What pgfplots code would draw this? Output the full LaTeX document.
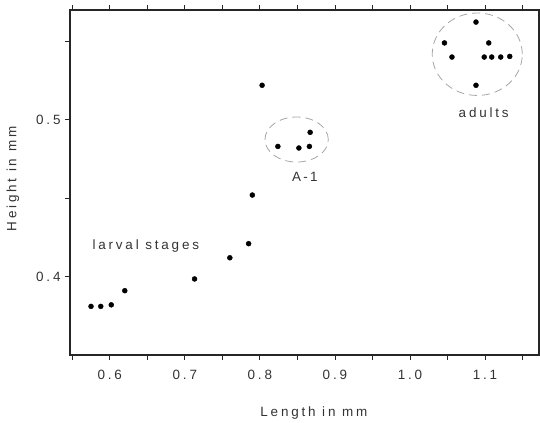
\documentclass[border=0pt]{standalone}
\usepackage{fontspec}
\setmainfont{Liberation Sans}[LetterSpace=21]
\usepackage{pgfplots}
\pgfplotsset{compat=1.18}
\begin{document}
\begin{tikzpicture}[x=1bp,y=1bp]
\path[use as bounding box] (0,0) rectangle (540,422);
\begin{axis}[
  at={(70bp,67bp)}, anchor=south west,
  scale only axis, width=469bp, height=345bp,
  xmin=0.547, xmax=1.172, ymin=0.35, ymax=0.570,
  axis line style={line width=1.1pt, black!85},
  tick style={line width=0.8pt, black!85},
  tick align=outside,
  major tick length=5bp, minor tick length=5bp,
  xtick={0.6,0.7,0.8,0.9,1.0,1.1},
  xticklabels={0.6,0.7,0.8,0.9,1.0,1.1},
  minor xtick={0.55,0.65,0.75,0.85,0.95,1.05,1.15},
  ytick={0.4,0.5},
  yticklabels={0.4,0.5},
  minor ytick={0.45,0.55},
  /pgf/number format/assume math mode=true,
  tick label style={font=\fontsize{13.5}{15}\selectfont, text=black!80},
  xticklabel style={yshift=-7bp},
  yticklabel style={xshift=-1bp},
  label style={font=\fontsize{13.5}{15}\selectfont, text=black!80},
  xlabel={Length in mm},
  ylabel={Height in mm},
  xlabel style={at={(axis description cs:0.52,-0.168)}, anchor=center},
  ylabel style={at={(axis description cs:-0.1215,0.51)}, anchor=center, rotate=0},
  clip=false,
]
\addplot[only marks, mark=*, mark size=2.5bp, black] coordinates {
  (0.575,0.381) (0.588,0.381) (0.602,0.382) (0.620,0.391)
  (0.713,0.3985) (0.760,0.412) (0.785,0.421) (0.790,0.452) (0.803,0.522)
};
\addplot[only marks, mark=*, mark size=2.5bp, black] coordinates {
  (0.824,0.483) (0.852,0.482) (0.866,0.483) (0.867,0.492)
};
\addplot[only marks, mark=*, mark size=2.5bp, black] coordinates {
  (1.088,0.5623) (1.046,0.549) (1.105,0.549) (1.056,0.540)
  (1.099,0.540) (1.109,0.540) (1.121,0.540) (1.133,0.5404) (1.088,0.522)
};
\draw[gray!70, line width=0.8pt, dash pattern=on 8bp off 5bp] (axis cs:0.849,0.4874) ellipse [x radius=0.0422, y radius=0.01436];
\draw[gray!70, line width=0.8pt, dash pattern=on 8bp off 5bp] (axis cs:1.0897,0.5418) ellipse [x radius=0.060, y radius=0.0263];
\node[font=\fontsize{13.5}{15}\selectfont, text=black!80] at (axis cs:0.648,0.4196) {larval stages};
\node[font=\fontsize{13.5}{15}\selectfont, text=black!80] at (axis cs:0.860,0.4638) {A\,-\,1};
\node[font=\fontsize{13.5}{15}\selectfont, text=black!80] at (axis cs:1.0983,0.5045) {adults};
\end{axis}
\end{tikzpicture}
\end{document}
